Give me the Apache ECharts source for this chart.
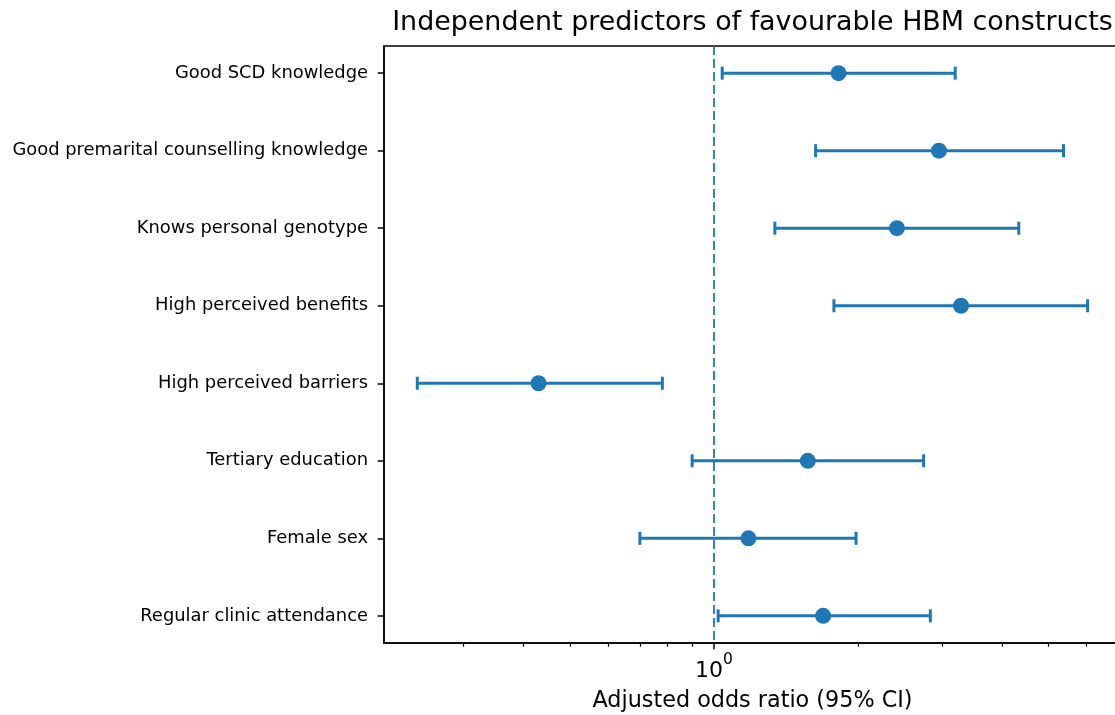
<!DOCTYPE html>
<html>
<head>
<meta charset="utf-8">
<script src="https://cdn.jsdelivr.net/npm/echarts@6/dist/echarts.min.js"></script>
<style>
html,body{margin:0;padding:0;background:#fff;}
#chart{width:1115px;height:715px;}
</style>
</head>
<body>
<div id="chart"></div>
<script>
// ---- data ----
const categories = [
  "Good SCD knowledge",
  "Good premarital counselling knowledge",
  "Knows personal genotype",
  "High perceived benefits",
  "High perceived barriers",
  "Tertiary education",
  "Female sex",
  "Regular clinic attendance"
];
const oddsRatio = [1.82, 2.95, 2.41, 3.28, 0.43, 1.57, 1.18, 1.69];
const ciLower   = [1.04, 1.63, 1.34, 1.78, 0.24, 0.90, 0.70, 1.02];
const ciUpper   = [3.19, 5.37, 4.33, 6.03, 0.78, 2.74, 1.98, 2.83];
const majorTicks = [1];
const minorTicks = [0.3, 0.4, 0.5, 0.6, 0.7, 0.8, 0.9, 2, 3, 4, 5, 6];
const referenceOR = 1;
const titleText = "Independent predictors of favourable HBM constructs";
const xAxisTitle = "Adjusted odds ratio (95% CI)";

// ---- chart ----
const FONT = "DejaVu Sans";
const BLUE = "#1f77b4";
const X_MIN = 0.2045, X_MAX = 7.08;
const Y_MIN = -0.35, Y_MAX = categories.length - 1 + 0.35;
const rowIdx = categories.map((_, i) => i);

const gridRect = { left: 384, top: 46, width: 737, height: 597, outerBoundsMode: 'none', containLabel: false };

const chart = echarts.init(document.getElementById('chart'), null, { renderer: 'canvas' });

const option = {
  animation: false,
  backgroundColor: '#fff',
  title: {
    text: titleText,
    left: 752.5,
    top: 10,
    padding: 0,
    textAlign: 'center',
    textStyle: { fontFamily: FONT, fontSize: 26.9, fontWeight: 'normal', color: '#000' }
  },
  grid: [
    Object.assign({ show: true, borderColor: '#000', borderWidth: 1.5, backgroundColor: 'transparent' }, gridRect),
    Object.assign({ show: false }, gridRect)
  ],
  xAxis: [
    {
      type: 'log', logBase: 10, gridIndex: 0, min: X_MIN, max: X_MAX, position: 'bottom',
      axisLine: { show: true, onZero: false, lineStyle: { color: '#000', width: 1.5 } },
      axisTick: { show: true, customValues: majorTicks, length: 6.3, lineStyle: { color: '#000', width: 1.5 } },
      axisLabel: {
        show: true, customValues: majorTicks, margin: 9,
        formatter: () => '{b|10}{s|0}',
        rich: {
          b: { fontFamily: FONT, fontSize: 22, color: '#000', lineHeight: 30, verticalAlign: 'bottom' },
          s: { fontFamily: FONT, fontSize: 15.5, color: '#000', lineHeight: 16, verticalAlign: 'top' }
        }
      },
      splitLine: { show: false },
      minorTick: { show: false },
      name: xAxisTitle, nameLocation: 'middle', nameGap: 47,
      nameTextStyle: { fontFamily: FONT, fontSize: 22.3, color: '#000' }
    },
    {
      type: 'log', logBase: 10, gridIndex: 1, min: X_MIN, max: X_MAX, position: 'bottom',
      axisLine: { show: false, onZero: false },
      axisTick: { show: true, customValues: minorTicks, length: 3.6, lineStyle: { color: '#000', width: 1.2 } },
      axisLabel: { show: false },
      splitLine: { show: false }
    }
  ],
  yAxis: [
    {
      type: 'value', gridIndex: 0, min: Y_MIN, max: Y_MAX, inverse: true,
      axisLine: { show: true, onZero: false, lineStyle: { color: '#000', width: 1.5 } },
      axisTick: { show: true, customValues: rowIdx, length: 6.3, lineStyle: { color: '#000', width: 1.5 } },
      axisLabel: {
        show: true, customValues: rowIdx, margin: 16,
        padding: [3, 0, 0, 0],
        formatter: v => categories[Math.round(v)],
        fontFamily: FONT, fontSize: 17.9, color: '#000'
      },
      splitLine: { show: false }
    },
    {
      type: 'value', gridIndex: 1, min: Y_MIN, max: Y_MAX, inverse: true, show: false,
      axisLine: { onZero: false }
    }
  ],
  series: [
    {
      type: 'custom',
      xAxisIndex: 0, yAxisIndex: 0,
      encode: { x: [0, 1], y: 2 },
      data: rowIdx.map(i => [ciLower[i], ciUpper[i], i]),
      renderItem: function (params, api) {
        const lo = api.coord([api.value(0), api.value(2)]);
        const hi = api.coord([api.value(1), api.value(2)]);
        const h = 6.5;
        const style = { stroke: BLUE, lineWidth: 3, fill: null };
        return {
          type: 'group',
          children: [
            { type: 'line', shape: { x1: lo[0], y1: lo[1], x2: hi[0], y2: hi[1] }, style: style },
            { type: 'line', shape: { x1: lo[0], y1: lo[1] - h, x2: lo[0], y2: lo[1] + h }, style: style },
            { type: 'line', shape: { x1: hi[0], y1: hi[1] - h, x2: hi[0], y2: hi[1] + h }, style: style }
          ]
        };
      },
      z: 3
    },
    {
      type: 'scatter',
      xAxisIndex: 0, yAxisIndex: 0,
      data: rowIdx.map(i => [oddsRatio[i], i]),
      symbol: 'circle', symbolSize: 16,
      itemStyle: { color: BLUE, opacity: 1 },
      z: 4,
      markLine: {
        silent: true, symbol: 'none', animation: false,
        label: { show: false },
        lineStyle: { color: BLUE, width: 1.8, type: [9, 4] },
        data: [{ xAxis: referenceOR }],
        z: 2
      }
    }
  ]
};
chart.setOption(option);
</script>
</body>
</html>
